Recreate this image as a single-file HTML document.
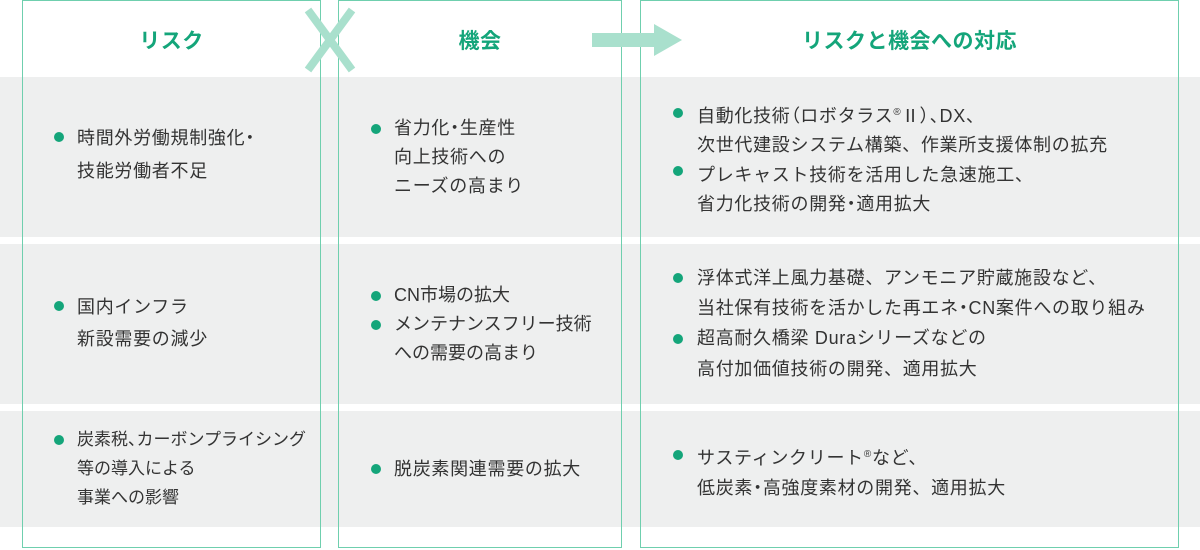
<!DOCTYPE html>
<html><head><meta charset="utf-8"><style>
body{margin:0;width:1200px;height:550px;background:#fff;position:relative;overflow:hidden;font-family:"Liberation Sans","Noto Sans CJK JP",sans-serif;}
.band{position:absolute;left:0;width:1200px;background:#eeefef;}
.col{position:absolute;top:0;height:548px;border:1px solid #6fcfae;box-sizing:border-box;}
.h{position:absolute;top:27px;font-size:21px;font-weight:bold;color:#14a57a;text-align:center;line-height:30px;letter-spacing:0.5px;}
.t{position:absolute;font-size:18px;color:#333;line-height:30px;white-space:nowrap;letter-spacing:0;}
.w{letter-spacing:0.7px;}
.n{font-feature-settings:"palt";}
.d{position:absolute;width:10px;height:10px;border-radius:50%;background:#14a57a;}
</style></head><body>
<div class="band" style="top:77px;height:160px"></div>
<div class="band" style="top:244px;height:160px"></div>
<div class="band" style="top:411px;height:116px"></div>
<div class="col" style="left:22px;width:299px"></div>
<div class="col" style="left:338px;width:284px"></div>
<div class="col" style="left:640px;width:539px"></div>
<div class="h" style="left:22px;width:299px">リスク</div>
<div class="h" style="left:338px;width:284px">機会</div>
<div class="h" style="left:640px;width:539px">リスクと機会への対応</div>
<svg style="position:absolute;left:0;top:0" width="1200" height="100">
<g stroke="#a9e0cd" stroke-width="8"><line x1="308" y1="10" x2="352" y2="70"/><line x1="352" y1="10" x2="308" y2="70"/></g>
<rect x="592" y="33" width="62" height="14" fill="#a9e0cd"/>
<polygon points="654,24 682,40 654,56" fill="#a9e0cd"/>
</svg>
<!-- row1 -->
<div class="d" style="left:54px;top:132px"></div>
<div class="t w" style="left:77px;top:122px;line-height:33px">時間外労働規制強化<span class="n">・</span><br>技能労働者不足</div>
<div class="d" style="left:371px;top:124px"></div>
<div class="t w" style="left:394px;top:114px;line-height:29px">省力化<span class="n">・</span>生産性<br>向上技術への<br>ニーズの高まり</div>
<div class="d" style="left:673px;top:108px"></div>
<div class="d" style="left:673px;top:166px"></div>
<div class="t w" style="left:697px;top:98px;line-height:29.3px">自動化技術<span class="n">（</span>ロボタラス<sup style="font-size:10px">®</sup>Ⅱ<span class="n">）、</span>DX、<br>次世代建設システム構築、作業所支援体制の拡充<br>プレキャスト技術を活用した急速施工、<br>省力化技術の開発<span class="n">・</span>適用拡大</div>
<!-- row2 -->
<div class="d" style="left:54px;top:301px"></div>
<div class="t w" style="left:77px;top:291px;line-height:32px">国内インフラ<br>新設需要の減少</div>
<div class="d" style="left:371px;top:291px"></div>
<div class="d" style="left:371px;top:320px"></div>
<div class="t" style="left:394px;top:281px;line-height:29px">CN市場の拡大<br>メンテナンスフリー技術<br>への需要の高まり</div>
<div class="d" style="left:673px;top:273px"></div>
<div class="d" style="left:673px;top:334px"></div>
<div class="t w" style="left:697px;top:263px;line-height:30.2px">浮体式洋上風力基礎、アンモニア貯蔵施設など、<br>当社保有技術を活かした再エネ<span class="n">・</span>CN案件への取り組み<br>超高耐久橋梁 Duraシリーズなどの<br>高付加価値技術の開発、適用拡大</div>
<!-- row3 -->
<div class="d" style="left:54px;top:435px"></div>
<div class="t" style="left:77px;top:425px;line-height:29px;font-size:17px">炭素税<span class="n">、</span>カーボンプライシング<br>等の導入による<br>事業への影響</div>
<div class="d" style="left:371px;top:464px"></div>
<div class="t w" style="left:394px;top:454px">脱炭素関連需要の拡大</div>
<div class="d" style="left:673px;top:450px"></div>
<div class="t w" style="left:697px;top:440px">サスティンクリート<sup style="font-size:10px">®</sup>など、<br>低炭素<span class="n">・</span>高強度素材の開発、適用拡大</div>
</body></html>
